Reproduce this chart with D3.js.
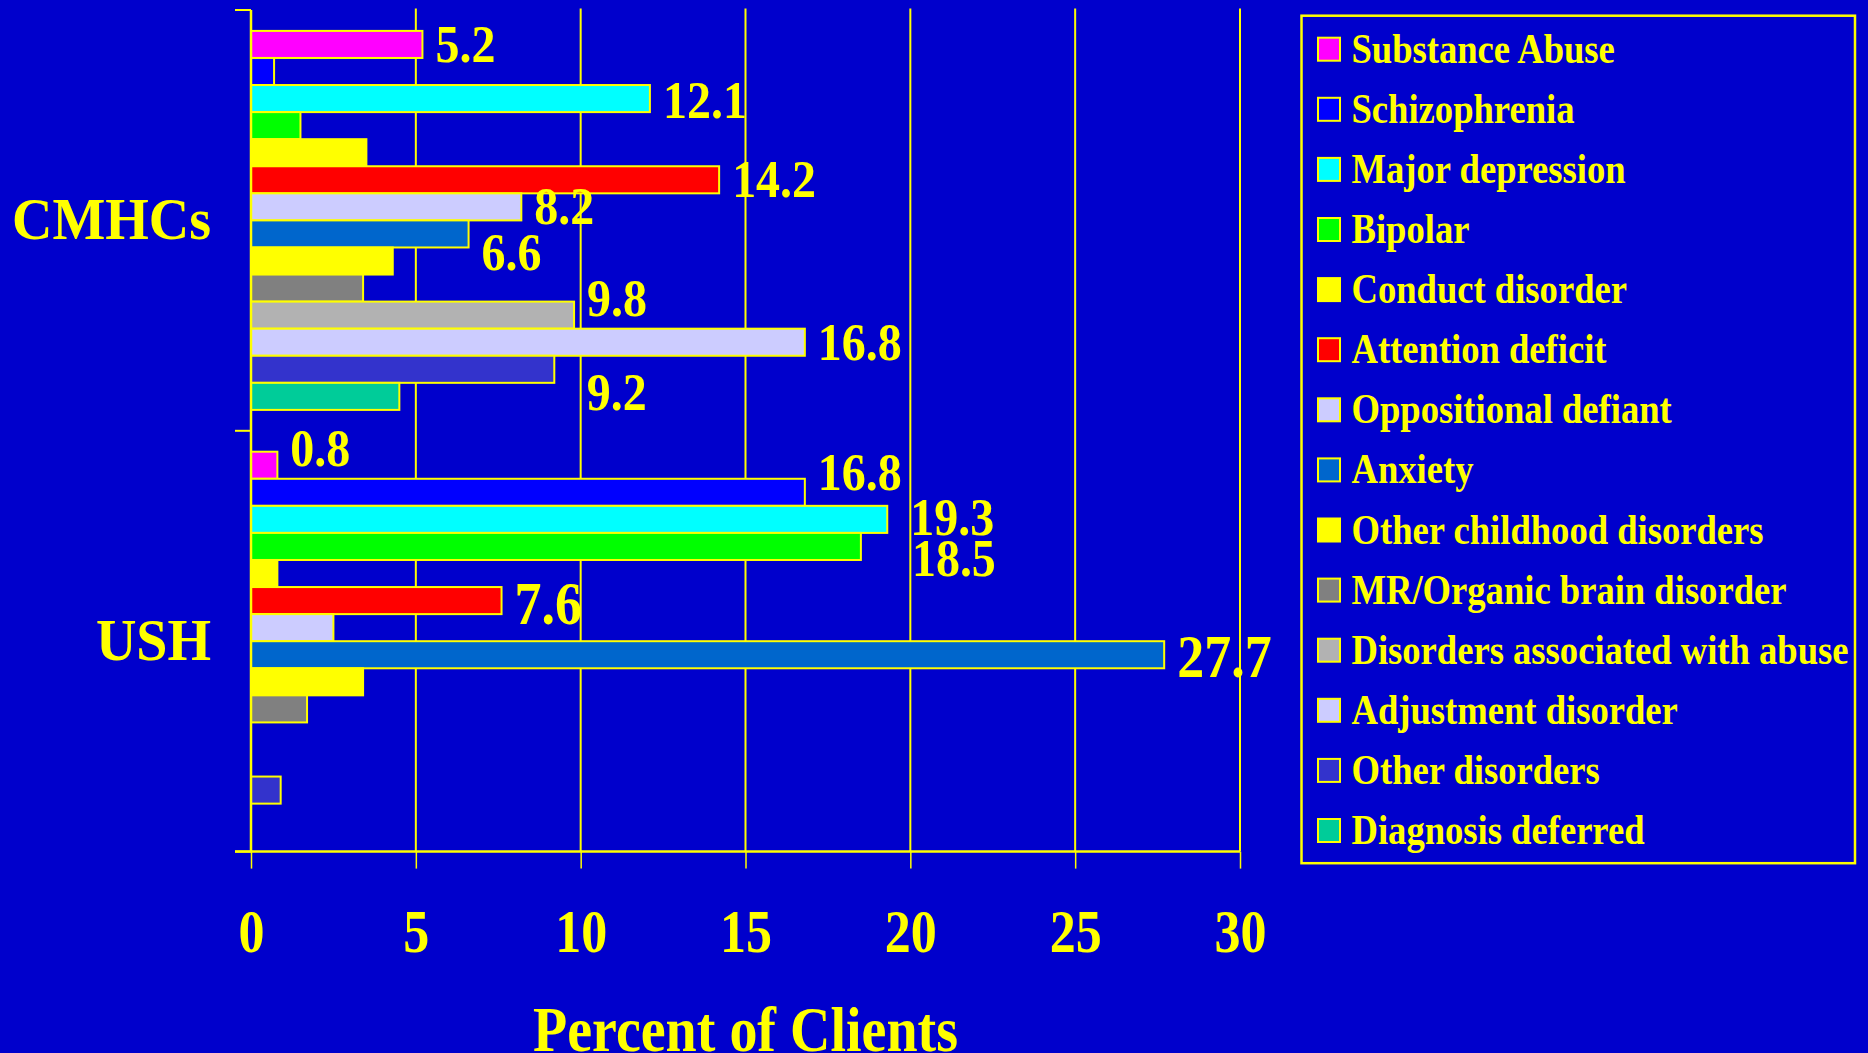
<!DOCTYPE html>
<html>
<head>
<meta charset="utf-8">
<script src="https://cdn.jsdelivr.net/npm/d3@7"></script>
<style>
  html, body { margin: 0; padding: 0; background: #0000cc; overflow: hidden; }
  svg { display: block; }
  text { font-family: "Liberation Serif", "Times New Roman", serif; font-weight: bold; fill: #ffff00; }
</style>
</head>
<body>
<svg id="chart" width="1868" height="1053"></svg>
<script>
// ---- data ----
const groups = ["CMHCs", "USH"];

const diagnoses = [
  "Substance Abuse",
  "Schizophrenia",
  "Major depression",
  "Bipolar",
  "Conduct disorder",
  "Attention deficit",
  "Oppositional defiant",
  "Anxiety",
  "Other childhood disorders",
  "MR/Organic brain disorder",
  "Disorders associated with abuse",
  "Adjustment disorder",
  "Other disorders",
  "Diagnosis deferred"
];

const diagnosisColors = [
  "#ff00ff", "#0000ff", "#00ffff", "#00ff00", "#ffff00", "#ff0000", "#ccccff",
  "#0066cc", "#ffff00", "#808080", "#b2b2b2", "#ccccff", "#3333cc", "#00cc99"
];

// percent of clients per diagnosis, in the order of `diagnoses`
const cmhcValues = [5.2, 0.7, 12.1, 1.5, 3.5, 14.2, 8.2, 6.6, 4.3, 3.4, 9.8, 16.8, 9.2, 4.5];
const ushValues  = [0.8, 16.8, 19.3, 18.5, 0.8, 7.6, 2.5, 27.7, 3.4, 1.7, 0, 0, 0.9, 0];

// bars that carry a value label
const labelledCMHCs = ["Substance Abuse", "Major depression", "Attention deficit", "Oppositional defiant",
                       "Anxiety", "Disorders associated with abuse", "Adjustment disorder", "Other disorders"];
const labelledUSH = ["Substance Abuse", "Schizophrenia", "Major depression", "Bipolar",
                     "Attention deficit", "Anxiety"];

const xTicks = [0, 5, 10, 15, 20, 25, 30];
const xTitle = "Percent of Clients";

// ---- layout ----
const YELLOW = "#ffff00";
const plot = { left: 251, right: 1240, top: 10, bottom: 851.6 };

const svg = d3.select("#chart");

const x = d3.scaleLinear().domain([0, 30]).range([plot.left, plot.right]);
const y = d3.scaleBand().domain(groups).range([plot.top, plot.bottom]).paddingInner(0).paddingOuter(0);
const yInner = d3.scaleBand().domain(diagnoses).range([0, y.bandwidth()]).paddingInner(0).paddingOuter(0.772);

const valuesByGroup = { "CMHCs": cmhcValues, "USH": ushValues };
const labelledByGroup = { "CMHCs": labelledCMHCs, "USH": labelledUSH };

const rows = [];
groups.forEach(g => {
  diagnoses.forEach((d, i) => {
    rows.push({ group: g, diagnosis: d, value: valuesByGroup[g][i], color: diagnosisColors[i] });
  });
});

// vertical gridlines
svg.append("g")
  .selectAll("line")
  .data(xTicks.filter(t => t > 0))
  .join("line")
  .attr("x1", d => x(d)).attr("x2", d => x(d))
  .attr("y1", plot.top - 1.5).attr("y2", plot.bottom)
  .attr("stroke", YELLOW).attr("stroke-width", 2);

// bars
svg.append("g")
  .selectAll("rect")
  .data(rows.filter(r => r.value > 0))
  .join("rect")
  .attr("x", x(0))
  .attr("y", d => y(d.group) + yInner(d.diagnosis))
  .attr("width", d => x(d.value) - x(0))
  .attr("height", yInner.bandwidth())
  .attr("fill", d => d.color)
  .attr("stroke", YELLOW)
  .attr("stroke-width", 2);

// x axis
const xAxis = svg.append("g")
  .attr("transform", `translate(0,${plot.bottom})`)
  .call(d3.axisBottom(x).tickValues(xTicks).tickSize(17).tickSizeOuter(0));
xAxis.select(".domain").remove();
xAxis.selectAll(".tick line").attr("stroke", YELLOW).attr("stroke-width", 1.5);
xAxis.selectAll(".tick text")
  .attr("y", null).attr("dy", null)
  .attr("transform", "translate(0,100) scale(1,1.16)")
  .attr("fill", YELLOW)
  .style("font-size", "52px")
  .style("font-family", '"Liberation Serif", "Times New Roman", serif')
  .style("font-weight", "bold")
  .attr("text-anchor", "middle");

svg.append("line")
  .attr("x1", plot.left - 16).attr("x2", plot.right)
  .attr("y1", plot.bottom).attr("y2", plot.bottom)
  .attr("stroke", YELLOW).attr("stroke-width", 2.5);

// y axis with ticks at group boundaries
svg.append("line")
  .attr("x1", plot.left).attr("x2", plot.left)
  .attr("y1", plot.top).attr("y2", plot.bottom)
  .attr("stroke", YELLOW).attr("stroke-width", 2.5);
const boundaries = groups.map(g => y(g)).concat([y.range()[1]]);
svg.append("g")
  .selectAll("line")
  .data(boundaries)
  .join("line")
  .attr("x1", plot.left - 16).attr("x2", plot.left)
  .attr("y1", d => d).attr("y2", d => d)
  .attr("stroke", YELLOW).attr("stroke-width", 2);

// group names
svg.append("g")
  .selectAll("text")
  .data(groups)
  .join("text")
  .attr("transform", g => `translate(${plot.left - 40},${y(g) + y.bandwidth() / 2 + 19}) scale(1,1.06)`)
  .attr("text-anchor", "end")
  .style("font-size", "56px")
  .text(g => g);

// value labels: placed just right of each bar, a few shifted to stay clear of neighbours
const labelNudge = {
  "CMHCs|Major depression": { dy: 2 },
  "CMHCs|Anxiety": { dy: 18.5 },
  "CMHCs|Disorders associated with abuse": { dy: -17 },
  "CMHCs|Other disorders": { dx: 19.4, dy: 23 },
  "USH|Substance Abuse": { dy: -17 },
  "USH|Schizophrenia": { dy: -20 },
  "USH|Major depression": { dx: 10, dy: -2 },
  "USH|Bipolar": { dx: 38, dy: 12.5 },
  "USH|Attention deficit": { dy: 5.5, size: 54 },
  "USH|Anxiety": { dy: 4.5, size: 54 }
};

const labelRows = rows.filter(r => labelledByGroup[r.group].includes(r.diagnosis));
svg.append("g")
  .selectAll("text")
  .data(labelRows)
  .join("text")
  .attr("transform", d => {
    const n = labelNudge[d.group + "|" + d.diagnosis] || {};
    const lx = x(d.value) + 13 + (n.dx || 0);
    const ly = y(d.group) + yInner(d.diagnosis) + yInner.bandwidth() / 2 + 17.5 + (n.dy || 0);
    return `translate(${lx},${ly}) scale(1,1.12)`;
  })
  .style("font-size", d => ((labelNudge[d.group + "|" + d.diagnosis] || {}).size || 48) + "px")
  .text(d => d3.format(".1f")(d.value));

// axis title
svg.append("text")
  .attr("transform", `translate(${(plot.left + plot.right) / 2},1051) scale(1,1.12)`)
  .attr("text-anchor", "middle")
  .style("font-size", "56px")
  .text(xTitle);

// legend
const legend = { x: 1301.5, y: 15.7, w: 553.5, h: 847.5, step: 60.1 };
svg.append("rect")
  .attr("x", legend.x).attr("y", legend.y)
  .attr("width", legend.w).attr("height", legend.h)
  .attr("fill", "none").attr("stroke", YELLOW).attr("stroke-width", 2.5);

const items = svg.append("g")
  .selectAll("g")
  .data(diagnoses)
  .join("g")
  .attr("transform", (d, i) => `translate(${legend.x},${legend.y + i * legend.step})`);
items.append("rect")
  .attr("x", 16.5).attr("y", 22)
  .attr("width", 22).attr("height", 23)
  .attr("fill", (d, i) => diagnosisColors[i])
  .attr("stroke", YELLOW).attr("stroke-width", 2);
items.append("text")
  .attr("transform", "translate(50,47) scale(1,1.16)")
  .style("font-size", "36.6px")
  .text(d => d);
</script>
</body>
</html>
